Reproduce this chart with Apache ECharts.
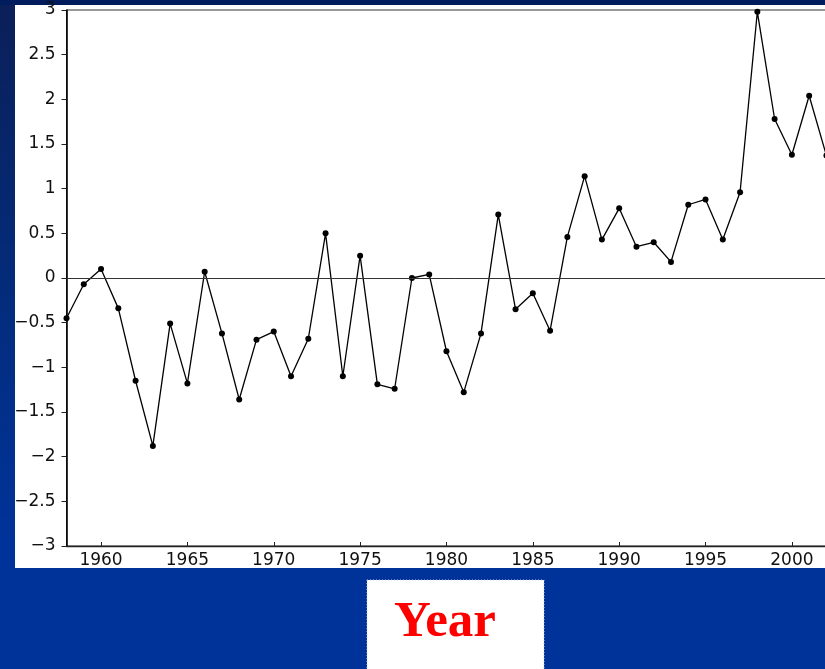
<!DOCTYPE html>
<html>
<head>
<meta charset="utf-8">
<script src="https://cdn.jsdelivr.net/npm/echarts@6/dist/echarts.min.js"></script>
<style>
html,body{margin:0;padding:0;width:825px;height:669px;overflow:hidden;background:#003399;}
#chart{position:absolute;left:0;top:0;width:870px;height:669px;}
</style>
</head>
<body>
<div id="chart"></div>
<script>
// Data
const years = [1958,1959,1960,1961,1962,1963,1964,1965,1966,1967,
               1968,1969,1970,1971,1972,1973,1974,1975,1976,1977,
               1978,1979,1980,1981,1982,1983,1984,1985,1986,1987,
               1988,1989,1990,1991,1992,1993,1994,1995,1996,1997,
               1998,1999,2000,2001,2002];
const values = [-0.45,-0.07,0.10,-0.34,-1.15,-1.88,-0.51,-1.18,0.07,-0.62,
                -1.36,-0.69,-0.60,-1.10,-0.68,0.50,-1.10,0.25,-1.19,-1.24,
                0.00,0.04,-0.82,-1.28,-0.62,0.71,-0.35,-0.17,-0.59,0.46,
                1.14,0.43,0.78,0.35,0.40,0.18,0.82,0.88,0.43,0.96,
                2.98,1.78,1.38,2.04,1.37];
const xTickLabels = [1960,1965,1970,1975,1980,1985,1990,1995,2000];
const axisTitle = 'Year';

const points = years.map((y, i) => [y, values[i]]);
const chart = echarts.init(document.getElementById('chart'), null, {renderer: 'canvas'});
const labelFont = {fontFamily: 'DejaVu Sans', fontSize: 17, color: '#111'};

chart.setOption({
  animation: false,
  backgroundColor: 'transparent',
  graphic: [
    {type: 'rect', z: -20, silent: true,
     shape: {x: 0, y: 0, width: 870, height: 669},
     style: {fill: new echarts.graphic.LinearGradient(0, 0, 0, 1, [
        {offset: 0, color: '#0b1f58'},
        {offset: 0.45, color: '#032c7c'},
        {offset: 0.8, color: '#003399'},
        {offset: 1, color: '#003399'}])}},
    {type: 'rect', z: -19, silent: true,
     shape: {x: 0, y: 0, width: 870, height: 5},
     style: {fill: '#001c5c'}},
    {type: 'rect', z: -18, silent: true,
     shape: {x: 15, y: 5, width: 855, height: 563},
     style: {fill: '#ffffff'}},
    {type: 'rect', z: 50, silent: true,
     shape: {x: 367, y: 580, width: 177, height: 95},
     style: {fill: '#ffffff', stroke: '#c9cde6', lineWidth: 1, lineDash: [1, 2]}},
    {type: 'text', z: 51, silent: true,
     x: 394, y: 623,
     style: {text: axisTitle, fill: '#ff0000', font: 'bold 51px "Liberation Serif", "DejaVu Serif", serif',
             align: 'left', verticalAlign: 'middle'}}
  ],
  grid: {left: 66.5, top: 10, right: 26.3, bottom: 123, show: true,
         borderColor: '#333', borderWidth: 1, backgroundColor: 'transparent', containLabel: false},
  xAxis: {
    type: 'value', min: 1958, max: 2003,
    axisLine: {show: true, onZero: false, lineStyle: {color: '#222', width: 1.3}},
    axisTick: {show: true, inside: true, length: 4, customValues: xTickLabels, lineStyle: {color: '#222', width: 1}},
    axisLabel: Object.assign({show: true, margin: 6, customValues: xTickLabels,
                              formatter: v => String(v)}, labelFont),
    splitLine: {show: false}
  },
  yAxis: {
    type: 'value', min: -3, max: 3, interval: 0.5,
    axisLine: {show: true, onZero: false, lineStyle: {color: '#000', width: 1.6}},
    axisTick: {show: true, inside: false, length: 5, lineStyle: {color: '#222', width: 1}},
    axisLabel: Object.assign({show: true, margin: 11,
                              formatter: v => String(v).replace('-', '\u2212')}, labelFont),
    splitLine: {show: false}
  },
  series: [{
    type: 'line',
    data: points,
    symbol: 'circle',
    symbolSize: 6,
    showSymbol: true,
    clip: false,
    itemStyle: {color: '#000'},
    lineStyle: {color: '#000', width: 1.3},
    markLine: {
      silent: true, symbol: ['none', 'none'], label: {show: false},
      lineStyle: {color: '#333', width: 1, type: 'solid'},
      data: [{yAxis: 0}]
    }
  }]
});
</script>
</body>
</html>
